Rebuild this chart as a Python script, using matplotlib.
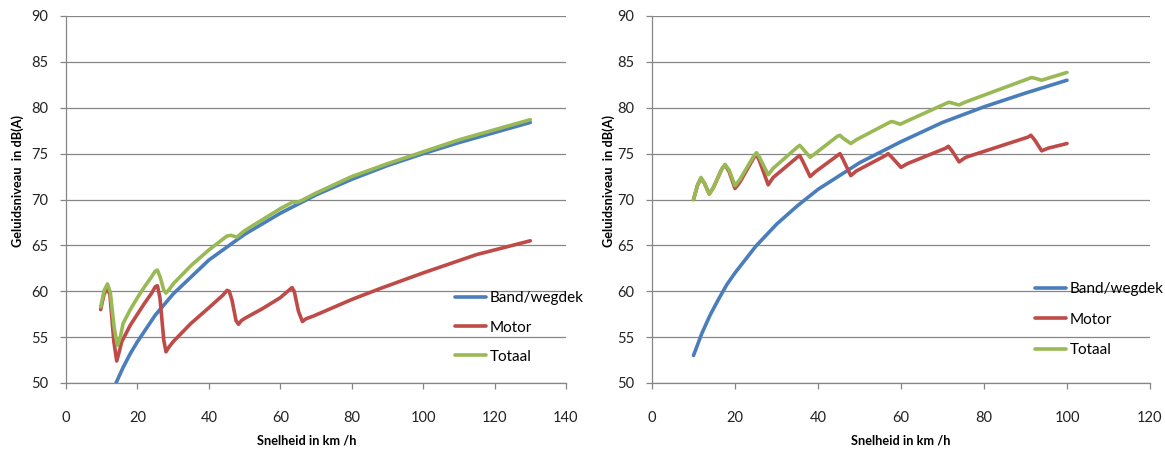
import matplotlib
matplotlib.use("Agg")
import matplotlib.pyplot as plt

plt.rcParams["font.family"] = ["Lato", "DejaVu Sans"]

# ====================== Data: left chart ======================
band_l_v = [14, 16, 18, 20, 25, 30, 40, 50, 60, 70, 80, 90, 100, 110, 120, 130]
band_l_db = [50.0, 51.7, 53.2, 54.5, 57.4, 59.7, 63.4, 66.2, 68.5, 70.5, 72.2, 73.7, 75.0, 76.2, 77.3, 78.4]

motor_l_v = [9.7, 10.6, 11.5, 12.3, 13.4, 14.2, 14.9, 15.6, 18, 20, 22, 24, 25.0, 25.6, 26.3, 27.4, 28.0,
             28.8, 30, 35, 40, 44, 45.1, 45.7, 46.5, 47.6, 48.3, 49.1, 50.3, 55, 60, 62.7, 63.3, 63.9,
             65.1, 66.2, 67.2, 69.3, 80, 88, 100, 115, 130]
motor_l_db = [58.0, 59.6, 60.4, 59.6, 54.5, 52.4, 53.4, 54.5, 56.3, 57.5, 58.7, 59.8, 60.5, 60.6, 59.3,
              54.6, 53.4, 53.9, 54.5, 56.5, 58.2, 59.6, 60.1, 60.0, 59.0, 56.8, 56.4, 56.8, 57.1, 58.1,
              59.3, 60.2, 60.4, 60.0, 57.8, 56.7, 57.0, 57.3, 59.1, 60.3, 62.0, 64.0, 65.5]

totaal_l_v = [9.7, 10.7, 11.6, 12.4, 13.5, 14.4, 15.2, 16, 18, 20, 22, 24, 25.0, 25.6, 26.4, 27.4, 28,
              28.9, 30, 35, 40, 45, 46.2, 47.8, 50, 55, 60, 63.4, 64.8, 66, 70, 80, 90, 100, 110, 120, 130]
totaal_l_db = [58.3, 60.1, 60.8, 59.9, 56.0, 54.1, 55.0, 56.5, 58.0, 59.3, 60.5, 61.6, 62.2, 62.3, 61.5,
               60.1, 59.8, 60.2, 60.8, 62.8, 64.5, 66.0, 66.1, 65.9, 66.6, 67.8, 69.0, 69.7, 69.7, 69.9,
               70.7, 72.5, 73.9, 75.2, 76.5, 77.6, 78.7]

# ====================== Data: right chart ======================
band_r_v = [10, 12, 14, 16, 18, 20, 25, 30, 35, 40, 50, 60, 70, 80, 90, 100]
band_r_db = [53.0, 55.4, 57.4, 59.1, 60.7, 62.0, 64.9, 67.3, 69.3, 71.1, 74.0, 76.3, 78.4, 80.1, 81.6, 83.0]

motor_r_v = [10, 11.0, 11.8, 12.6, 13.8, 14.8, 16.8, 17.6, 18.6, 20.0, 21.2, 24.6, 25.2, 25.9, 28.0, 29.2,
             35.0, 35.6, 36.4, 38.1, 39.3, 44.7, 45.3, 46.0, 47.9, 49.2, 56.3, 56.9, 57.8, 60.0, 61.5,
             70.8, 71.4, 72.3, 74.0, 75.6, 90.6, 91.3, 92.2, 93.9, 95.5, 100]
motor_r_db = [70.0, 71.6, 72.3, 71.8, 70.6, 71.3, 73.3, 73.8, 73.0, 71.2, 71.9, 74.6, 74.9, 74.2, 71.6,
              72.4, 74.6, 74.8, 74.1, 72.5, 73.0, 74.8, 75.0, 74.4, 72.6, 73.1, 74.8, 75.0, 74.6, 73.5,
              73.9, 75.6, 75.8, 75.3, 74.1, 74.6, 76.8, 77.0, 76.5, 75.3, 75.6, 76.1]

totaal_r_v = [10, 11.0, 11.8, 12.6, 13.8, 14.8, 16.8, 17.6, 18.6, 20.0, 21.2, 24.6, 25.2, 25.9, 28.0,
              29.2, 35.0, 35.6, 36.4, 38.1, 39.3, 44.7, 45.3, 46.0, 47.9, 49.2, 57.2, 57.8, 58.6, 59.8,
              61.2, 71.0, 71.6, 72.4, 74.0, 75.4, 90.9, 91.5, 92.4, 93.9, 95.3, 100]
totaal_r_db = [70.0, 71.6, 72.4, 71.8, 70.6, 71.3, 73.3, 73.8, 73.2, 71.5, 72.2, 74.8, 75.1, 74.6, 72.7,
               73.4, 75.7, 75.9, 75.5, 74.6, 75.0, 76.9, 77.0, 76.7, 76.1, 76.5, 78.4, 78.5, 78.4, 78.2,
               78.5, 80.5, 80.6, 80.5, 80.3, 80.6, 83.2, 83.3, 83.2, 83.0, 83.2, 83.85]

labels = ["Band/wegdek", "Motor", "Totaal"]
colors = ["#4A7EBB", "#BE4B48", "#98B954"]
y_ticks = [50, 55, 60, 65, 70, 75, 80, 85, 90]


def draw_panel(ax, series, x_max, legend_anchor, spacing, ylab_x, xlab_x):
    for (v, db), lab, col in zip(series, labels, colors):
        ax.plot(v, db, color=col, lw=2.6, label=lab, solid_joinstyle="round",
                solid_capstyle="round")
    ax.set_xlim(0, x_max)
    ax.set_ylim(50, 90)
    ax.set_xticks(range(0, x_max + 1, 20))
    ax.set_yticks(y_ticks)
    ax.grid(axis="y", color="#868686", lw=0.9)
    ax.set_axisbelow(True)
    for s in ["top", "right"]:
        ax.spines[s].set_visible(False)
    for s in ["left", "bottom"]:
        ax.spines[s].set_color("#868686")
        ax.spines[s].set_linewidth(0.9)
    ax.tick_params(axis="both", direction="out", length=4, width=0.9, color="#868686",
                   labelsize=10.5, labelcolor="#222222")
    ax.tick_params(axis="y", pad=9)
    ax.tick_params(axis="x", pad=16)
    ax.set_xlabel("Snelheid in km /h", fontsize=9.2, fontweight="bold")
    ax.set_ylabel("Geluidsniveau  in dB(A)", fontsize=9.2, fontweight="bold")
    ax.yaxis.set_label_coords(ylab_x, 0.55)
    ax.xaxis.set_label_coords(xlab_x, -0.141)
    ax.legend(loc="upper left", bbox_to_anchor=legend_anchor, frameon=False, fontsize=11,
              handlelength=2.0, handletextpad=0.25, labelspacing=spacing, borderpad=0,
              borderaxespad=0)


fig = plt.figure(figsize=(11.65, 4.51), dpi=100)
ax1 = fig.add_axes([66 / 1165, 68 / 451, 500 / 1165, 367 / 451])
ax2 = fig.add_axes([652 / 1165, 68 / 451, 498 / 1165, 367 / 451])

draw_panel(ax1, [(band_l_v, band_l_db), (motor_l_v, motor_l_db), (totaal_l_v, totaal_l_db)],
           140, (0.778, 0.25), 1.0, -0.084, 0.482)
draw_panel(ax2, [(band_r_v, band_r_db), (motor_r_v, motor_r_db), (totaal_r_v, totaal_r_db)],
           120, (0.769, 0.275), 1.08, -0.074, 0.499)

fig.savefig("out.png", dpi=100, facecolor="white")
